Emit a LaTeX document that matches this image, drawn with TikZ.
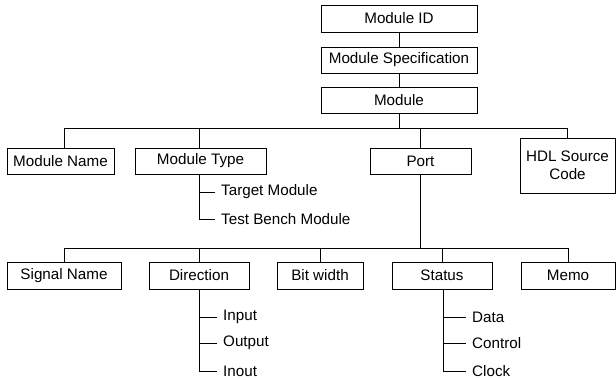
\documentclass[tikz,border=0pt]{standalone}
\usepackage{fontspec}
\setmainfont{Liberation Sans}
\begin{document}
\begin{tikzpicture}[x=1pt,y=-1pt,
  box/.style={draw,line width=0.9pt,inner sep=0pt,align=center,font=\fontsize{15.2}{17.5}\selectfont},
  leaf/.style={anchor=west,inner sep=0pt,font=\fontsize{15.2}{17.5}\selectfont},
  conn/.style={line width=0.9pt},
  tick/.style={line width=0.9pt,shorten >=6pt}]
\useasboundingbox (0,0) rectangle (616,380);
% top column
\node[box,minimum width=156,minimum height=27] (mid) at (399,18.5) {Module ID};
\node[box,minimum width=156,minimum height=26] (mspec) at (399,60) {Module Specification};
\node[box,minimum width=156,minimum height=26] (mod) at (399,100) {Module};
% second row
\node[box,minimum width=107,minimum height=26] (mname) at (60.5,161) {Module Name};
\node[box,minimum width=131,minimum height=26] (mtype) at (200.5,161) {Module Type};
\node[box,minimum width=101,minimum height=26] (port) at (420.5,161) {Port};
\node[box,minimum width=95,minimum height=55] (hdl) at (567.5,165.5) {HDL Source\\Code};
% bottom row
\node[box,minimum width=114,minimum height=27] (sig) at (64,275.5) {Signal Name};
\node[box,minimum width=100,minimum height=27] (dir) at (199,275.5) {Direction};
\node[box,minimum width=86,minimum height=27] (bit) at (320,275.5) {Bit width};
\node[box,minimum width=100,minimum height=27] (stat) at (442,275.5) {Status};
\node[box,minimum width=94,minimum height=27] (memo) at (568,275.5) {Memo};
% leaves
\node[leaf] (tgt) at (221,192) {Target Module};
\node[leaf] (tb) at (221,219) {Test Bench Module};
\node[leaf] (inp) at (223,317) {Input};
\node[leaf] (outp) at (223,343) {Output};
\node[leaf] (inout) at (223,371) {Inout};
\node[leaf] (data) at (472,317) {Data};
\node[leaf] (ctrl) at (472,343) {Control};
\node[leaf] (clk) at (472,371) {Clock};
% bus coordinates
\coordinate (busa) at (0,128);
\coordinate (busb) at (0,248);
% top links
\draw[conn] (mid) -- (mspec);
\draw[conn] (mspec) -- (mod);
\draw[conn] (mod.south) -- (mod.south |- busa);
\draw[conn] ([xshift=3.5]mname.north |- busa) -- (hdl.north |- busa);
\draw[conn] ([xshift=3.5]mname.north) -- ([xshift=3.5]mname.north |- busa);
\draw[conn] ([xshift=-1.5]mtype.north) -- ([xshift=-1.5]mtype.north |- busa);
\draw[conn] (port.north) -- (port.north |- busa);
\draw[conn] (hdl.north) -- (hdl.north |- busa);
% port to bottom bus
\draw[conn] (port.south) -- (port.south |- busb);
\draw[conn] (sig.north |- busb) -- (memo.north |- busb);
\draw[conn] (sig.north) -- (sig.north |- busb);
\draw[conn] (dir.north) -- (dir.north |- busb);
\draw[conn] (bit.north) -- (bit.north |- busb);
\draw[conn] (stat.north) -- (stat.north |- busb);
\draw[conn] (memo.north) -- (memo.north |- busb);
% subtrees
\draw[tick] ([xshift=-1.5]mtype.south) |- (tgt.west);
\draw[tick] ([xshift=-1.5]mtype.south) |- (tb.west);
\draw[tick] (dir.south) |- (inp.west);
\draw[tick] (dir.south) |- (outp.west);
\draw[tick] (dir.south) |- (inout.west);
\draw[tick] ([xshift=1]stat.south) |- (data.west);
\draw[tick] ([xshift=1]stat.south) |- (ctrl.west);
\draw[tick] ([xshift=1]stat.south) |- (clk.west);
\end{tikzpicture}
\end{document}
